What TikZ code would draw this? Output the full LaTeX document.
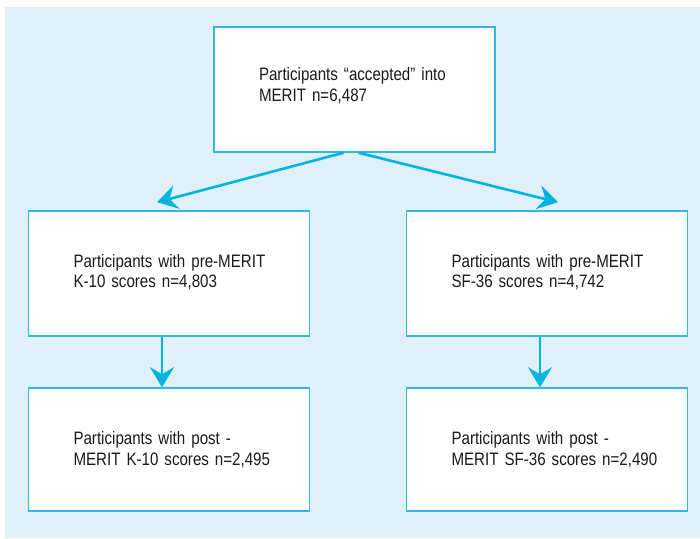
\documentclass[tikz,border=0pt]{standalone}
\usepackage{fontspec}
\setmainfont[FakeStretch=0.84]{Liberation Sans}
\usetikzlibrary{arrows.meta,calc}
\definecolor{bgblue}{HTML}{DFF0F8}
\definecolor{cyanline}{HTML}{00B4E0}
\definecolor{boxline}{HTML}{30B8E0}
\definecolor{txt}{HTML}{1A1A1A}
\begin{document}
\begin{tikzpicture}[x=1pt,y=-1pt,
  box/.style={draw=boxline,line width=1.5pt,fill=white,minimum width=281pt,minimum height=125pt,
    text width=230pt,align=left,inner xsep=0pt,inner ysep=0pt,font=\fontsize{18}{20.5}\selectfont,text=txt},
  arr/.style={draw=cyanline,line width=2.6pt,-{Stealth[length=20pt,width=24pt,inset=7pt]}}]
\useasboundingbox (0,0) rectangle (700,538);
\fill[bgblue] (5,7) rectangle (700,538);
\node[box] (top) at (354.5,89.5) {\leftskip=19.5pt Participants “accepted” into\\MERIT n=6,487\par\vspace{8pt}};
\node[box] (ml) at (169,273.5) {\leftskip=19.5pt Participants with pre-MERIT\\K-10 scores n=4,803\par\vspace{3pt}};
\node[box] (mr) at (547,273.5) {\leftskip=19.5pt Participants with pre-MERIT\\SF-36 scores n=4,742\par\vspace{3pt}};
\node[box,minimum height=123pt] (bl) at (169,449.5) {\leftskip=19.5pt Participants with post -\\MERIT K-10 scores n=2,495\par};
\node[box,minimum height=123pt] (br) at (547,449.5) {\leftskip=19.5pt Participants with post -\\MERIT SF-36 scores n=2,490\par};
\draw[arr] ([xshift=-11pt]top.south) -- ([shift={(-12pt,8pt)}]ml.north);
\draw[arr] ([xshift=4pt]top.south) -- ([shift={(11pt,8pt)}]mr.north);
\draw[arr] ([xshift=-7pt]ml.south) -- ([xshift=-7pt]bl.north);
\draw[arr] ([xshift=-7pt]mr.south) -- ([xshift=-7pt]br.north);
\end{tikzpicture}
\end{document}
